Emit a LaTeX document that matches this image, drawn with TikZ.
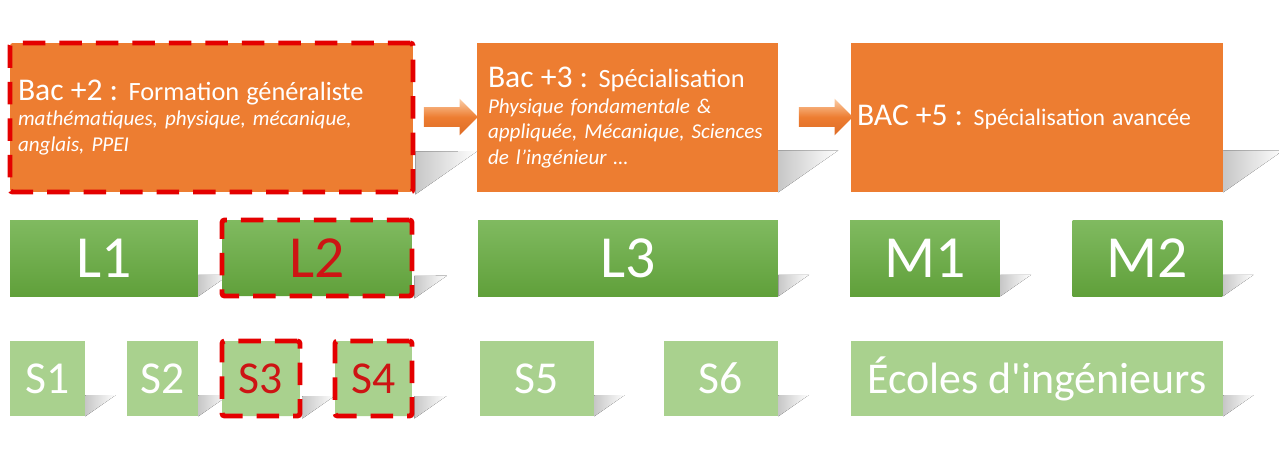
\documentclass[tikz,border=0pt]{standalone}
\usepackage{fontspec}
\setmainfont{Carlito}
\usepackage{tikz}
\usetikzlibrary{positioning,shapes.arrows,calc,backgrounds}
\definecolor{bacorange}{RGB}{237,125,49}
\definecolor{lgreentop}{RGB}{128,186,96}
\definecolor{lgreenbot}{RGB}{96,160,58}
\definecolor{sgreen}{RGB}{169,209,142}
\definecolor{hlred}{RGB}{228,0,0}
\definecolor{hltext}{RGB}{205,20,20}
\definecolor{arrowlight}{RGB}{251,206,168}
\definecolor{arrowdark}{RGB}{222,108,38}

\begin{document}
\begin{tikzpicture}[x=0.02cm, y=-0.02cm,
  bacbox/.style={fill=bacorange, text=white, align=left, minimum height=2.98cm, inner ysep=0pt, font=\fontsize{12}{14.5}\selectfont\itshape},
  lbox/.style={top color=lgreentop, bottom color=lgreenbot, text=white, minimum height=1.52cm, inner sep=0pt, font=\fontsize{34}{40}\selectfont},
  sbox/.style={fill=sgreen, text=white, minimum height=1.5cm, inner sep=0pt, font=\fontsize{26}{32}\selectfont},
  highlight/.style={draw=hlred, line width=2.8pt, dash pattern=on 0.45cm off 0.28cm, rounded corners=1.5pt},
  steparrow/.style={single arrow, single arrow head extend=0.17cm, minimum height=1.08cm, inner xsep=0pt, inner ysep=0.19cm,
    top color=arrowlight, bottom color=arrowdark, middle color=bacorange}
]
\useasboundingbox (0,0) rectangle (1279,454);

% Diplomas
\node[bacbox, highlight, text width=7.74cm, inner xsep=0.16cm] (bac2) at (211.5,117.5)
  {{\upshape\fontsize{18}{20}\selectfont Bac +2 : \fontsize{15}{20}\selectfont Formation généraliste}\\
   mathématiques, physique, mécanique,\\ anglais, PPEI};
\node[bacbox, text width=5.58cm, inner xsep=0.22cm] (bac3) at (627.5,117.5)
  {{\upshape\fontsize{18}{20}\selectfont Bac +3 : \fontsize{15}{20}\selectfont Spécialisation}\\
   Physique fondamentale \&\\ appliquée, Mécanique, Sciences\\ de l'ingénieur …};
\node[bacbox, text width=7.2cm, inner xsep=0.12cm] (bac5) at (1037,117.5)
  {\upshape\fontsize{18}{20}\selectfont BAC +5 : \fontsize{13.5}{20}\selectfont Spécialisation avancée};

\node[steparrow] (arr1) at (446,117) {};
\node[steparrow] (arr2) at (821,117) {};

% Years
\node[lbox, minimum width=3.76cm] (l1) at (104,258) {L1};
\node[lbox, highlight, text=hltext, minimum width=3.8cm] (l2) at (317,258) {L2};
\node[lbox, minimum width=6cm] (l3) at (628,258) {L3};
\node[lbox, minimum width=3cm] (m1) at (925,258) {M1};
\node[lbox, minimum width=3cm] (m2) at (1147.5,258) {M2};

% Semesters
\node[sbox, minimum width=1.5cm] (s1) at (47.5,378.5) {S1};
\node[sbox, minimum width=1.42cm] (s2) at (162.5,378.5) {S2};
\node[sbox, highlight, text=hltext, minimum width=1.56cm] (s3) at (261,378.5) {S3};
\node[sbox, highlight, text=hltext, minimum width=1.54cm] (s4) at (373.5,378.5) {S4};
\node[sbox, minimum width=2.28cm] (s5) at (537,378.5) {S5};
\node[sbox, minimum width=2.28cm] (s6) at (721,378.5) {S6};
\node[sbox, minimum width=7.44cm, font=\fontsize{25}{30}\selectfont] (ecoles) at (1037,378.5) {Écoles d\textquotesingle ingénieurs};

% Shadows
\begin{scope}[on background layer]
\foreach \n in {bac2,bac3,bac5,l1,l2,l3,m1,m2,s1,s2,s3,s4,s5,s6,ecoles}
  \fill[left color=black!22, right color=white] (\n.south east) -- ($(\n.south east)!0.49!-55:(\n.north east)$)
    -- ($(\n.south east)!0.28!(\n.north east)$) -- cycle;
\end{scope}

\end{tikzpicture}
\end{document}
